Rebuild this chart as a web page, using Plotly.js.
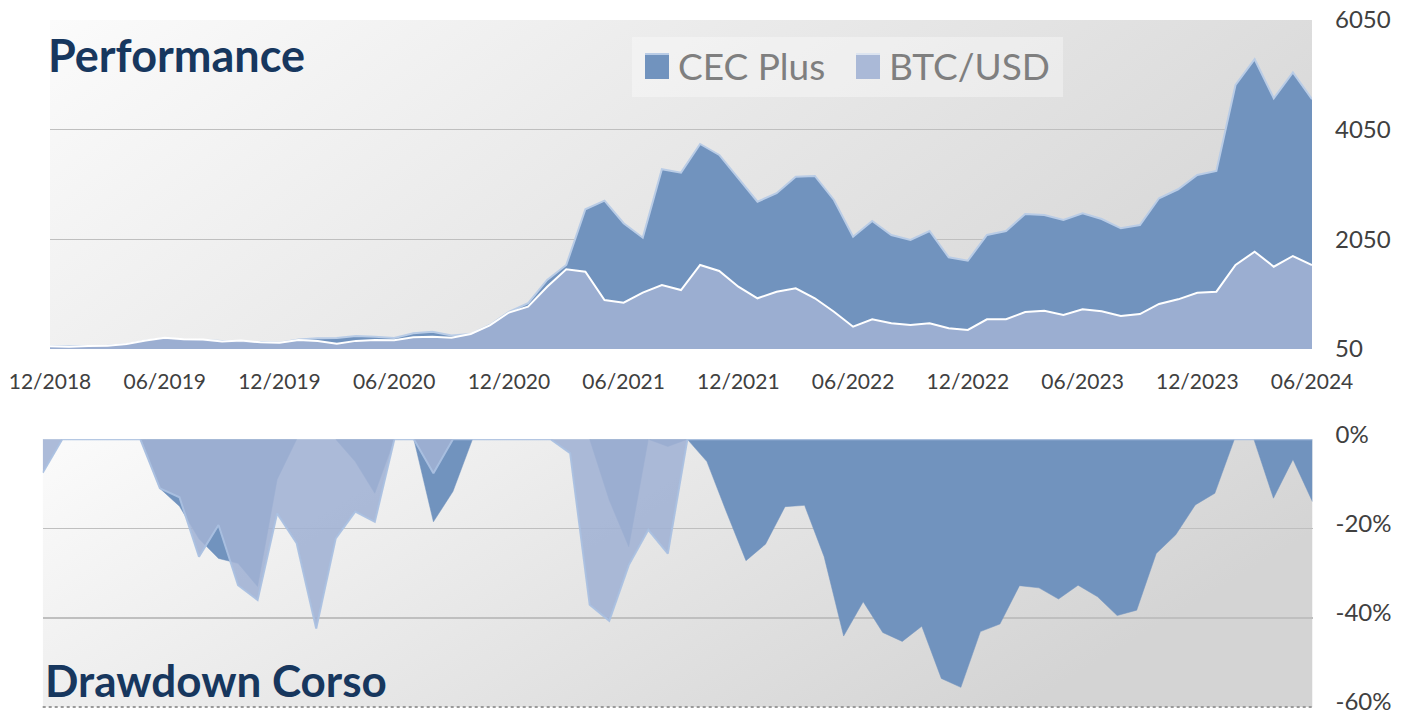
<!DOCTYPE html>
<html>
<head>
<meta charset="utf-8">
<script src="https://cdn.plot.ly/plotly-3.0.1.min.js"></script>
<style>
html, body { margin: 0; padding: 0; background: #ffffff; }
#chart { width: 1410px; height: 718px; }
</style>
</head>
<body>
<div id="chart"></div>
<script>
// ---------------- DATA ----------------
const months = [
  '12/2018',
  '01/2019','02/2019','03/2019','04/2019','05/2019','06/2019','07/2019','08/2019','09/2019','10/2019','11/2019','12/2019',
  '01/2020','02/2020','03/2020','04/2020','05/2020','06/2020','07/2020','08/2020','09/2020','10/2020','11/2020','12/2020',
  '01/2021','02/2021','03/2021','04/2021','05/2021','06/2021','07/2021','08/2021','09/2021','10/2021','11/2021','12/2021',
  '01/2022','02/2022','03/2022','04/2022','05/2022','06/2022','07/2022','08/2022','09/2022','10/2022','11/2022','12/2022',
  '01/2023','02/2023','03/2023','04/2023','05/2023','06/2023','07/2023','08/2023','09/2023','10/2023','11/2023','12/2023',
  '01/2024','02/2024','03/2024','04/2024','05/2024','06/2024'
];

const cecPlus = [
  100, 100, 102, 110, 138, 200, 245, 218, 208, 191, 180, 178, 165,
  222, 245, 250, 287, 273, 252, 336, 366, 298, 323, 488, 725,
  884, 1309, 1582, 2598, 2755, 2343, 2080, 3328, 3266, 3789, 3589, 3163,
  2737, 2890, 3193, 3206, 2768, 2098, 2385, 2129, 2038, 2202, 1722, 1661,
  2129, 2202, 2512, 2494, 2403, 2525, 2421, 2251, 2312, 2799, 2963, 3224,
  3297, 4865, 5334, 4623, 5095, 4605
];

const btcUsd = [
  100, 92, 103, 110, 140, 205, 255, 227, 222, 188, 206, 172, 163,
  213, 196, 147, 198, 214, 208, 263, 275, 254, 324, 480, 715,
  822, 1186, 1504, 1460, 944, 895, 1077, 1217, 1126, 1582, 1473, 1186,
  975, 1095, 1157, 975, 730, 457, 592, 518, 488, 518, 427, 397,
  592, 592, 725, 749, 670, 774, 738, 652, 688, 871, 956, 1077,
  1095, 1582, 1825, 1551, 1746, 1582
];

// Drawdown chart starts one month later (01/2019 .. 06/2024), values in %
const ddMonths = months.slice(1);

const ddCec = [
  0, 0, 0, 0, 0, 0, -11, -15, -22.3, -26.7, -27.8, -33,
  -9, 0, 0, 0, -5, -12.1, 0, 0, -18.5, -11.7, 0, 0,
  0, 0, 0, 0, 0, -13.6, -24.1, 0, -1.6, 0, -5, -16.3,
  -27.2, -23.5, -15.1, -14.8, -26.3, -44.1, -36.4, -43.3, -45.3, -41.9, -53.6, -55.6,
  -43.1, -41.4, -32.8, -33.3, -35.8, -32.7, -35.3, -39.5, -38.3, -25.6, -21.4, -14.7,
  -12.1, 0, 0, -13.2, -4.5, -14
];

const ddBtc = [
  -7.5, 0, 0, 0, 0, 0, -11, -13, -26.3, -19.2, -32.7, -36,
  -16.6, -23.3, -42.4, -22.2, -16.2, -18.5, 0, 0, -7.6, 0, 0, 0,
  0, 0, 0, -3.1, -37.1, -40.7, -28.2, -20.3, -25.6, 0, 0, 0,
  0, 0, 0, 0, 0, 0, 0, 0, 0, 0, 0, 0,
  0, 0, 0, 0, 0, 0, 0, 0, 0, 0, 0, 0,
  0, 0, 0, 0, 0, 0
];

const xTickVals = ['12/2018','06/2019','12/2019','06/2020','12/2020','06/2021','12/2021','06/2022','12/2022','06/2023','12/2023','06/2024'];
const perfTickVals = [50, 2050, 4050, 6050];
const perfTickText = ['50', '2050', '4050', '6050'];
const ddTickVals = [0, -20, -40, -60];
const ddTickText = ['0%', '-20%', '-40%', '-60%'];

const seriesNames = ['CEC Plus', 'BTC/USD'];
const titleTop = 'Performance';
const titleBottom = 'Drawdown Corso';

// ---------------- STYLE / LAYOUT ----------------
const W = 1410, H = 718;
const px = v => v / W;
const py = v => 1 - v / H;

const FONT = 'Lato, "Open Sans", "Liberation Sans", sans-serif';
const DARK = 'rgb(113,147,190)';
const LIGHT = 'rgba(160,178,212,0.88)';
const NAVY = '#17375E';

function gradient(c0, c1) {
  const svg = '<svg xmlns="http://www.w3.org/2000/svg" width="100" height="100" viewBox="0 0 100 100" preserveAspectRatio="none">' +
    '<defs><linearGradient id="g" x1="0" y1="0" x2="1" y2="0.35">' +
    '<stop offset="0" stop-color="' + c0 + '"/><stop offset="1" stop-color="' + c1 + '"/></linearGradient></defs>' +
    '<rect x="0" y="0" width="100" height="100" fill="url(#g)"/></svg>';
  return 'data:image/svg+xml;base64,' + btoa(svg);
}

const topX = [px(50), px(1312)];
const topY = [py(349), py(20)];
const botX = [px(42.7), px(1312.5)];
const botY = [py(707), py(439.3)];

const traces = [
  {
    x: months, y: cecPlus, name: seriesNames[0], type: 'scatter', mode: 'lines',
    fill: 'tozeroy', fillcolor: DARK, line: {color: '#B9CCE6', width: 2},
    xaxis: 'x', yaxis: 'y', showlegend: false
  },
  {
    x: months, y: btcUsd, name: seriesNames[1], type: 'scatter', mode: 'lines',
    fill: 'tozeroy', fillcolor: LIGHT, line: {color: '#FFFFFF', width: 2},
    xaxis: 'x', yaxis: 'y', showlegend: false
  },
  {
    x: ddMonths, y: ddCec, name: seriesNames[0], type: 'scatter', mode: 'lines',
    fill: 'tozeroy', fillcolor: DARK, line: {color: DARK, width: 0.5},
    xaxis: 'x2', yaxis: 'y2', showlegend: false
  },
  {
    x: ddMonths, y: ddBtc, name: seriesNames[1], type: 'scatter', mode: 'lines',
    fill: 'tozeroy', fillcolor: LIGHT, line: {color: 'rgba(170,192,224,0.95)', width: 2},
    xaxis: 'x2', yaxis: 'y2', showlegend: false
  }
];

const tickFontX = {family: FONT, size: 21, color: '#404040'};
const tickFontY = {family: FONT, size: 24, color: '#404040'};

const layout = {
  width: W, height: H,
  margin: {l: 0, r: 0, t: 0, b: 0, pad: 0},
  paper_bgcolor: '#ffffff',
  plot_bgcolor: 'rgba(0,0,0,0)',
  showlegend: false,
  xaxis: {
    type: 'category', domain: topX, range: [0, months.length - 1], anchor: 'y',
    tickmode: 'array', tickvals: xTickVals, ticktext: xTickVals,
    showgrid: false, zeroline: false, showline: false, ticks: '',
    tickfont: tickFontX, ticklabelstandoff: 18, automargin: false, ticklabeloverflow: 'allow'
  },
  yaxis: {
    domain: topY, range: [50, 6050], anchor: 'x', side: 'right',
    tickmode: 'array', tickvals: perfTickVals, ticktext: perfTickText,
    showgrid: true, gridcolor: '#BFBFBF', gridwidth: 1.5, zeroline: false, showline: false,
    ticks: '', tickfont: tickFontY, ticklabelstandoff: 22, automargin: false, ticklabeloverflow: 'allow'
  },
  xaxis2: {
    type: 'category', domain: botX, range: [0, ddMonths.length - 1], anchor: 'y2',
    showticklabels: false, showgrid: false, zeroline: false, showline: false, ticks: '',
    automargin: false
  },
  yaxis2: {
    domain: botY, range: [-60, 0], anchor: 'x2', side: 'right',
    tickmode: 'array', tickvals: ddTickVals, ticktext: ddTickText,
    showgrid: true, gridcolor: '#BFBFBF', gridwidth: 1.5, zeroline: false, showline: false,
    ticks: '', tickfont: tickFontY, ticklabelstandoff: 22, ticklabelshift: -5,
    automargin: false, ticklabeloverflow: 'allow'
  },
  images: [
    {source: gradient('#FBFBFB', '#D9D9D9'), xref: 'paper', yref: 'paper',
     x: topX[0], y: topY[1], sizex: topX[1] - topX[0], sizey: topY[1] - topY[0],
     xanchor: 'left', yanchor: 'top', sizing: 'stretch', layer: 'below'},
    {source: gradient('#FBFBFB', '#D4D4D4'), xref: 'paper', yref: 'paper',
     x: botX[0], y: botY[1], sizex: botX[1] - botX[0], sizey: botY[1] - botY[0],
     xanchor: 'left', yanchor: 'top', sizing: 'stretch', layer: 'below'}
  ],
  shapes: [
    // legend box
    {type: 'rect', xref: 'paper', yref: 'paper', x0: px(632), x1: px(1063), y0: py(97), y1: py(37),
     fillcolor: 'rgba(255,255,255,0.35)', line: {width: 0}, layer: 'above'},
    // legend swatches
    {type: 'rect', xref: 'paper', yref: 'paper', x0: px(645), x1: px(669), y0: py(79), y1: py(53),
     fillcolor: DARK, line: {width: 0}, layer: 'above'},
    {type: 'line', xref: 'paper', yref: 'paper', x0: px(645), x1: px(669), y0: py(54), y1: py(54),
     line: {color: '#B9CCE6', width: 2}, layer: 'above'},
    {type: 'rect', xref: 'paper', yref: 'paper', x0: px(856), x1: px(880), y0: py(79), y1: py(53),
     fillcolor: LIGHT, line: {width: 0}, layer: 'above'},
    {type: 'line', xref: 'paper', yref: 'paper', x0: px(856), x1: px(880), y0: py(54), y1: py(54),
     line: {color: '#DCE4F0', width: 2}, layer: 'above'},
    // dotted bottom border of drawdown panel
    {type: 'line', xref: 'paper', yref: 'paper', x0: botX[0], x1: botX[1], y0: botY[0], y1: botY[0],
     line: {color: '#9A9A9A', width: 2, dash: 'dot'}, layer: 'above'}
  ],
  annotations: [
    {text: titleTop, xref: 'paper', yref: 'paper', x: px(46), y: py(55), xanchor: 'left', yanchor: 'middle',
     showarrow: false, font: {family: FONT, size: 45, color: NAVY, weight: 'bold'}},
    {text: titleBottom, xref: 'paper', yref: 'paper', x: px(43), y: py(680), xanchor: 'left', yanchor: 'middle',
     showarrow: false, font: {family: FONT, size: 44, color: NAVY, weight: 'bold'}},
    {text: seriesNames[0], xref: 'paper', yref: 'paper', x: px(676), y: py(66), xanchor: 'left', yanchor: 'middle',
     showarrow: false, font: {family: FONT, size: 37, color: '#7F7F7F'}},
    {text: seriesNames[1], xref: 'paper', yref: 'paper', x: px(887), y: py(66), xanchor: 'left', yanchor: 'middle',
     showarrow: false, font: {family: FONT, size: 37, color: '#7F7F7F'}}
  ]
};

Plotly.newPlot('chart', traces, layout, {displayModeBar: false, staticPlot: true});
</script>
</body>
</html>
